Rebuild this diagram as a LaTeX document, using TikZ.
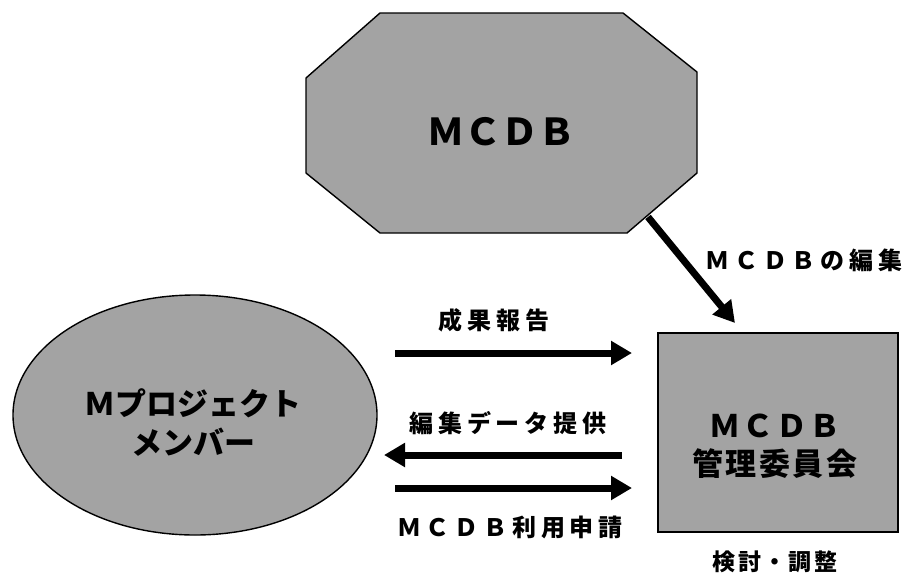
\documentclass[tikz,border=0pt]{standalone}
\usepackage{fontspec}
\setmainfont{Noto Sans CJK JP}
\usetikzlibrary{arrows.meta,shapes.geometric,shapes.misc}
\begin{document}
\begin{tikzpicture}[x=1pt,y=-1pt,
  shapefill/.style={draw=black,line width=1.4pt,fill=black!36,inner sep=0pt,align=center},
  arr/.style={line width=7pt,-{Triangle[length=21pt,width=23pt]}},
  lbl/.style={font=\fontsize{24}{28}\selectfont\bfseries\addfontfeature{LetterSpace=20},inner sep=0pt}]
\useasboundingbox (0,0) rectangle (921,574);
% MCDB octagon
\draw[shapefill] (380,13) -- (623,13) -- (697,72) -- (697,173) -- (627,233)
  -- (380,233) -- (306,173) -- (306,78) -- cycle;
\node[font=\fontsize{37}{40}\selectfont\bfseries,inner sep=0pt] (mcdb) at (501,132) {ＭＣＤＢ};
% member ellipse
\node[shapefill,ellipse,minimum width=364pt,minimum height=240pt] (mem) at (195,415) {};
\node[font=\fontsize{31}{39}\selectfont\bfseries,align=center,inner sep=0pt] (memt) at (193,423) {Ｍプロジェクト\\メンバー};
% committee box
\node[shapefill,rectangle,minimum width=240pt,minimum height=199pt] (com) at (778,432.5) {};
\node[font=\fontsize{31}{38}\selectfont\bfseries\addfontfeature{LetterSpace=8},align=center,inner sep=0pt] (comt) at (775,446) {ＭＣＤＢ\\管理委員会};
% arrow end points
\coordinate (d1) at (648,217);
\coordinate (d2) at (735,323);
\coordinate (r1s) at (395,353);
\coordinate (r1e) at (632,353);
\coordinate (l1s) at (622,455);
\coordinate (l1e) at (384,455);
\coordinate (r2s) at (395,488);
\coordinate (r2e) at (632,488);
\draw[arr] (d1) -- (d2);
\draw[arr] (r1s) -- (r1e);
\draw[arr] (l1s) -- (l1e);
\draw[arr] (r2s) -- (r2e);
% labels
\node[lbl] (t1) at (804,260) {ＭＣＤＢの編集};
\node[lbl] (t2) at (494,320) {成果報告};
\node[lbl] (t3) at (508,423) {編集データ提供};
\node[lbl] (t4) at (510,527) {ＭＣＤＢ利用申請};
\node[lbl,font=\fontsize{23}{26}\selectfont\bfseries\addfontfeature{LetterSpace=10}] (t5) at (775,562) {検討・調整};
\end{tikzpicture}
\end{document}
